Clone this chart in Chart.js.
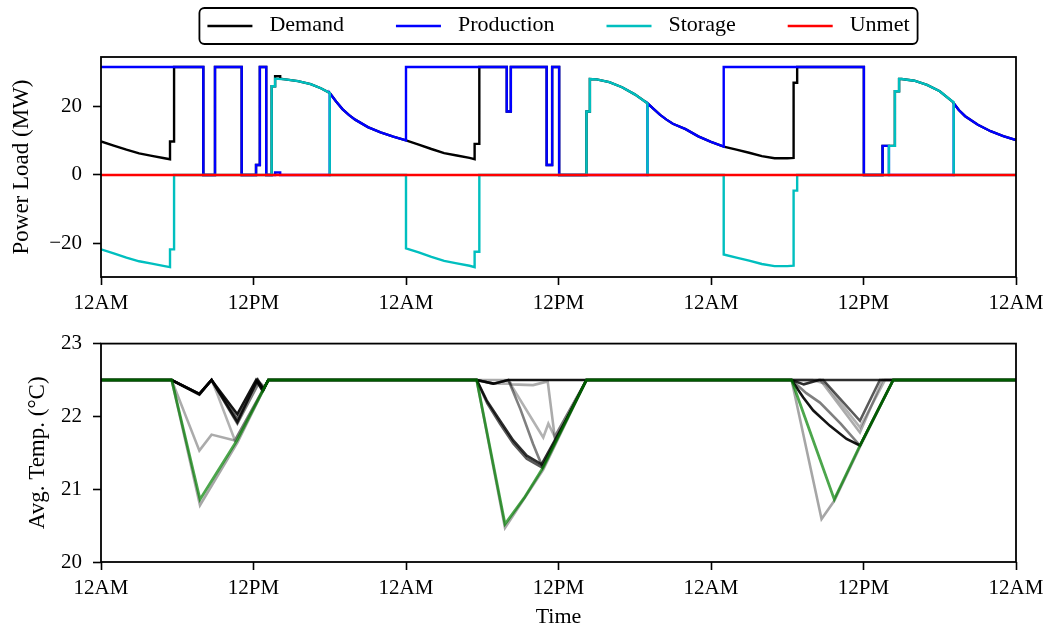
<!DOCTYPE html>
<html>
<head>
<meta charset="utf-8">
<script src="https://cdn.jsdelivr.net/npm/chart.js@4"></script>
<style>
  html, body { margin: 0; padding: 0; background: #fff; }
  #wrap { position: relative; width: 1052px; height: 630px; }
  canvas { position: absolute; left: 0; }
  #power { top: 0; }
  #temp { top: 320px; }
</style>
</head>
<body>
<div id="wrap">
  <canvas id="power" width="1052" height="320"></canvas>
  <canvas id="temp" width="1052" height="310"></canvas>
</div>
<script>
// ---- axis ticks (hours over three days) ----
const timeTicks = [0, 12, 24, 36, 48, 60, 72];
const timeTickLabels = ['12AM', '12PM', '12AM', '12PM', '12AM', '12PM', '12AM'];
const powerTicks = [-20, 0, 20];
const tempTicks = [20, 21, 22, 23];

// ---- power series (hour, MW); repeated hours mark switching instants ----
const demandHours = [
  0, 1, 2, 3, 4, 5, 5.43, 5.43, 5.75, 5.75, 8.05, 8.05, 8.97, 8.97, 11.07, 11.07, 12.2, 12.2, 12.5, 12.5, 13.0, 13.0, 13.43, 13.43, 13.7, 13.7, 14.1, 14.1,
  14.5, 15.5, 16.5, 17.3, 18.0, 18.5, 19, 19.5, 20, 21, 22, 23, 24,
  25, 26, 27, 28, 29, 29.4, 29.4, 29.77, 29.77, 31.93, 31.93, 32.25, 32.25, 35.07, 35.07, 35.5, 35.5, 36.05, 36.05, 38.2, 38.2, 38.47, 38.47,
  39, 40, 41, 42, 43, 43.5, 44, 44.5, 45, 46, 47, 48, 49,
  50, 51, 52, 53, 54, 54.5, 54.5, 54.78, 54.78, 60.03, 60.03, 61.5, 61.5, 62.47, 62.47, 62.8, 62.8,
  63, 64, 65, 66, 67, 67.1, 67.5, 68, 69, 70, 71, 72
];
const demandMW = [
  9.8, 8.6, 7.4, 6.3, 5.6, 4.9, 4.6, 9.8, 9.8, 31.6, 31.6, 0, 0, 31.6, 31.6, 0, 0, 2.9, 2.9, 31.6, 31.6, 0, 0, 26.0, 26.0, 28.9, 28.9, 28.2,
  28.0, 27.5, 26.6, 25.4, 24.0, 21.5, 19.3, 17.6, 16.2, 14.0, 12.5, 11.2, 10.1,
  8.9, 7.6, 6.4, 5.7, 5.0, 4.6, 9.1, 9.1, 31.6, 31.6, 18.6, 18.6, 31.6, 31.6, 2.9, 2.9, 31.6, 31.6, 0, 0, 18.6, 18.6, 28.1,
  28.0, 27.2, 25.7, 23.6, 21.0, 19.3, 17.6, 16.2, 15.0, 13.4, 11.3, 9.7, 8.3,
  7.4, 6.5, 5.5, 4.9, 4.9, 5.0, 27.0, 27.0, 31.6, 31.6, 0, 0, 8.5, 8.5, 24.5, 24.5, 28.1,
  28.1, 27.6, 26.4, 24.5, 21.5, 21.0, 19.0, 17.2, 14.7, 12.8, 11.4, 10.2
];

const productionHours = [
  0, 8.05, 8.05, 8.97, 8.97, 11.07, 11.07, 12.2, 12.2, 12.5, 12.5, 13.0, 13.0, 13.7, 13.7, 14.1, 14.1, 18.0, 18.0,
  18.5, 19, 19.5, 20, 21, 22, 23, 24, 24,
  31.93, 31.93, 32.25, 32.25, 35.07, 35.07, 35.5, 35.5, 36.05, 36.05, 43.0, 43.0,
  43.5, 44, 44.5, 45, 46, 47, 48, 49, 49,
  60.03, 60.03, 61.5, 61.5, 62.0, 62.0, 67.1, 67.1,
  67.5, 68, 69, 70, 71, 72
];
const productionMW = [
  31.6, 31.6, 0, 0, 31.6, 31.6, 0, 0, 2.9, 2.9, 31.6, 31.6, 0, 0, 0.7, 0.7, 0, 0, 24.0,
  21.5, 19.3, 17.6, 16.2, 14.0, 12.5, 11.2, 10.1, 31.6,
  31.6, 18.6, 18.6, 31.6, 31.6, 2.9, 2.9, 31.6, 31.6, 0, 0, 21.0,
  19.3, 17.6, 16.2, 15.0, 13.4, 11.3, 9.7, 8.3, 31.6,
  31.6, 0, 0, 8.5, 8.5, 0, 0, 21.0,
  19.0, 17.2, 14.7, 12.8, 11.4, 10.2
];

const storageHours = [
  0, 1, 2, 3, 4, 5, 5.43, 5.43, 5.75, 5.75, 13.43, 13.43, 13.7, 13.7,
  14.5, 15.5, 16.5, 17.3, 18.0, 18.0, 24, 24,
  25, 26, 27, 28, 29, 29.4, 29.4, 29.77, 29.77, 38.2, 38.2, 38.47, 38.47,
  39, 40, 41, 42, 43, 43, 49, 49,
  50, 51, 52, 53, 54, 54.5, 54.5, 54.78, 54.78, 62.0, 62.0, 62.47, 62.47, 62.8, 62.8,
  63, 64, 65, 66, 67, 67.1, 67.1, 72
];
const storageMW = [
  -21.8, -23.0, -24.2, -25.3, -26.0, -26.7, -27.0, -21.8, -21.8, 0, 0, 26.0, 26.0, 28.2,
  28.0, 27.5, 26.6, 25.4, 24.0, 0, 0, -21.5,
  -22.7, -24.0, -25.2, -25.9, -26.6, -27.0, -22.5, -22.5, 0, 0, 18.6, 18.6, 28.1,
  28.0, 27.2, 25.7, 23.6, 21.0, 0, 0, -23.3,
  -24.2, -25.1, -26.1, -26.7, -26.7, -26.6, -4.6, -4.6, 0, 0, 8.5, 8.5, 24.5, 24.5, 28.1,
  28.1, 27.6, 26.4, 24.5, 21.5, 21.3, 0, 0
];

const unmetHours = [0, 72];
const unmetMW = [0, 0];

// ---- average zone temperature traces (hour, degC) ----
const traceLightDeepHours = [0, 5.56, 7.79, 10.73, 13.17, 29.56, 31.79, 34.8, 38.2, 54.34, 56.7, 57.7, 59.72, 62.34, 72];
const traceLightDeepC     = [22.5, 22.5, 20.78, 21.64, 22.5, 22.5, 20.47, 21.27, 22.5, 22.5, 20.59, 20.84, 21.58, 22.5, 22.5];

const traceLightAHours = [0, 5.56, 7.74, 8.7, 10.54, 13.17, 32.05, 32.3, 34.0, 35.15, 35.7, 38.2, 56.6, 59.72, 61.5, 72];
const traceLightAC     = [22.5, 22.5, 21.53, 21.75, 21.67, 22.5, 22.5, 22.44, 22.43, 22.48, 21.72, 22.5, 22.5, 21.78, 22.5, 22.5];

const traceLightBHours = [0, 5.56, 7.74, 8.7, 9.1, 10.54, 13.17, 29.56, 30.87, 32.2, 34.8, 35.2, 35.7, 38.2, 56.0, 57.0, 59.72, 61.7, 72];
const traceLightBC     = [22.5, 22.5, 22.31, 22.5, 22.33, 21.67, 22.5, 22.5, 22.45, 22.45, 21.71, 21.9, 21.72, 22.5, 22.5, 22.45, 21.85, 22.5, 22.5];

const traceMidHours = [0, 5.56, 7.74, 8.7, 10.73, 12.45, 12.85, 13.17, 29.56, 30.87, 32.05, 33.0, 34.0, 34.75, 38.2, 54.34, 55.5, 56.57, 58.2, 59.72, 62.34, 72];
const traceMidC     = [22.5, 22.5, 22.3, 22.5, 21.9, 22.47, 22.4, 22.5, 22.5, 22.45, 22.5, 22.1, 21.62, 21.3, 22.5, 22.5, 22.32, 22.19, 21.9, 21.6, 22.5, 22.5];

const traceDarkHours = [0, 5.56, 7.74, 8.7, 10.73, 12.35, 12.8, 13.17, 29.56, 30.4, 31.4, 32.44, 33.5, 34.7, 38.2, 56.83, 59.72, 61.29, 72];
const traceDarkC     = [22.5, 22.5, 22.3, 22.5, 21.96, 22.5, 22.37, 22.5, 22.5, 22.18, 21.9, 21.63, 21.42, 21.3, 22.5, 22.5, 21.94, 22.5, 22.5];

const traceDarkerHours = [0, 5.56, 7.74, 8.7, 10.73, 12.3, 12.78, 13.17, 29.56, 30.35, 31.4, 32.44, 33.5, 34.67, 36.5, 38.2, 54.34, 55.3, 56.5, 72];
const traceDarkerC     = [22.5, 22.5, 22.31, 22.5, 21.92, 22.5, 22.37, 22.5, 22.5, 22.22, 21.94, 21.67, 21.46, 21.34, 21.92, 22.5, 22.5, 22.44, 22.5, 22.5];

const traceBlackHours = [0, 5.56, 7.74, 8.7, 10.73, 12.2, 12.72, 13.17, 29.56, 30.87, 32.05, 54.34, 55.26, 56.05, 57.36, 58.67, 59.72, 61.0, 62.34, 72];
const traceBlackC     = [22.5, 22.5, 22.31, 22.5, 22.03, 22.5, 22.35, 22.5, 22.5, 22.45, 22.5, 22.5, 22.26, 22.08, 21.87, 21.69, 21.6, 22.04, 22.5, 22.5];

const traceGreenHours = [0, 5.56, 7.79, 10.73, 13.17, 29.56, 31.79, 33.3, 34.8, 36.5, 38.2, 54.34, 57.7, 59.72, 62.34, 72];
const traceGreenC     = [22.5, 22.5, 20.86, 21.68, 22.5, 22.5, 20.52, 20.88, 21.3, 21.9, 22.5, 22.5, 20.86, 21.6, 22.5, 22.5];

// ---- helpers ----
const toPoints = (xs, ys) => xs.map((x, i) => ({ x: x, y: ys[i] }));
const SERIF = "'Liberation Serif', 'Times New Roman', serif";
Chart.defaults.font.family = SERIF;
Chart.defaults.font.size = 21;
Chart.defaults.color = '#000';

// full box round each plot area, drawn above the lines
const framePlugin = {
  id: 'frame',
  afterDatasetsDraw(chart) {
    const a = chart.chartArea, ctx = chart.ctx;
    ctx.save();
    ctx.strokeStyle = '#000';
    ctx.lineWidth = 1.8;
    ctx.strokeRect(a.left, a.top, a.right - a.left, a.bottom - a.top);
    ctx.restore();
  }
};

// boxed single-row key above the power plot
const keyPlugin = {
  id: 'seriesKey',
  afterDraw(chart) {
    const ctx = chart.ctx;
    ctx.save();
    ctx.font = '22px ' + SERIF;
    const handle = 45, textPad = 17, colGap = 52, sidePad = 8;
    const items = chart.data.datasets.map(ds => ({ label: ds.label, color: ds.borderColor, w: ctx.measureText(ds.label).width }));
    const total = sidePad * 2 + items.reduce((s, it) => s + handle + textPad + it.w, 0) + colGap * (items.length - 1);
    const a = chart.chartArea;
    const left = (a.left + a.right) / 2 - total / 2;
    const top = 8, h = 36, cy = top + h / 2;
    ctx.beginPath();
    ctx.roundRect(left, top, total, h, 5);
    ctx.fillStyle = '#fff';
    ctx.fill();
    ctx.lineWidth = 1.8;
    ctx.strokeStyle = '#000';
    ctx.stroke();
    let x = left + sidePad;
    items.forEach(it => {
      ctx.beginPath();
      ctx.moveTo(x, cy);
      ctx.lineTo(x + handle, cy);
      ctx.strokeStyle = it.color;
      ctx.lineWidth = 2.4;
      ctx.stroke();
      x += handle + textPad;
      ctx.fillStyle = '#000';
      ctx.textAlign = 'left';
      ctx.textBaseline = 'middle';
      ctx.fillText(it.label, x, cy - 1);
      x += it.w + colGap;
    });
    ctx.restore();
  }
};

const tickGrid = { display: true, drawOnChartArea: false, drawTicks: true, tickLength: 8, tickWidth: 1.6, tickColor: '#000' };

function timeAxis(height, withTitle) {
  return {
    type: 'linear', min: 0, max: 72,
    afterBuildTicks: s => { s.ticks = timeTicks.map(v => ({ value: v })); },
    afterFit: s => { s.height = height; },
    ticks: { padding: 6, maxRotation: 0, autoSkip: false, callback: (v, i) => timeTickLabels[i] },
    grid: tickGrid,
    border: { display: false },
    title: withTitle ? { display: true, text: 'Time', font: { size: 22 }, padding: { top: 0, bottom: 0 } } : { display: false }
  };
}

function line(label, xs, ys, color, width, order) {
  return { label, data: toPoints(xs, ys), borderColor: color, backgroundColor: color, borderWidth: width,
           pointRadius: 0, tension: 0, fill: false, order };
}

// ---- power plot ----
new Chart(document.getElementById('power'), {
  type: 'line',
  data: {
    datasets: [
      line('Demand', demandHours, demandMW, '#000000', 2.4, 4),
      line('Production', productionHours, productionMW, '#0000ff', 2.4, 3),
      line('Storage', storageHours, storageMW, '#00bfbf', 2.4, 2),
      line('Unmet', unmetHours, unmetMW, '#ff0000', 2.4, 1)
    ]
  },
  options: {
    responsive: false, animation: false, events: [],
    layout: { padding: { left: 0, right: 36, top: 57, bottom: 0 } },
    plugins: { legend: { display: false }, tooltip: { enabled: false } },
    scales: {
      x: timeAxis(43, false),
      y: {
        type: 'linear', min: -29.9, max: 34.55,
        afterBuildTicks: s => { s.ticks = powerTicks.map(v => ({ value: v })); },
        afterFit: s => { s.width = 101; },
        ticks: { padding: 11, callback: v => String(v).replace('-', '\u2212') },
        grid: tickGrid,
        border: { display: false },
        title: { display: true, text: 'Power Load (MW)', font: { size: 23 }, padding: { top: 8, bottom: 0 } }
      }
    }
  },
  plugins: [framePlugin, keyPlugin]
});

// ---- temperature plot ----
new Chart(document.getElementById('temp'), {
  type: 'line',
  data: {
    datasets: [
      line('t7', traceGreenHours, traceGreenC, 'rgba(0,128,0,0.7)', 2.8, 0),
      line('t6', traceBlackHours, traceBlackC, 'rgba(0,0,0,0.92)', 2.6, 1),
      line('t5', traceDarkerHours, traceDarkerC, 'rgba(0,0,0,0.82)', 2.6, 2),
      line('t4', traceDarkHours, traceDarkC, 'rgba(0,0,0,0.65)', 2.6, 3),
      line('t3', traceMidHours, traceMidC, 'rgba(0,0,0,0.5)', 2.6, 4),
      line('t2', traceLightBHours, traceLightBC, 'rgba(0,0,0,0.3)', 2.6, 5),
      line('t1', traceLightAHours, traceLightAC, 'rgba(0,0,0,0.33)', 2.6, 6),
      line('t0', traceLightDeepHours, traceLightDeepC, 'rgba(0,0,0,0.35)', 2.6, 7)
    ]
  },
  options: {
    responsive: false, animation: false, events: [],
    layout: { padding: { left: 0, right: 36, top: 23, bottom: 0 } },
    plugins: { legend: { display: false }, tooltip: { enabled: false } },
    scales: {
      x: timeAxis(68, true),
      y: {
        type: 'linear', min: 20, max: 23,
        afterBuildTicks: s => { s.ticks = tempTicks.map(v => ({ value: v })); },
        afterFit: s => { s.width = 101; },
        ticks: { padding: 11 },
        grid: tickGrid,
        border: { display: false },
        title: { display: true, text: 'Avg. Temp. (°C)', font: { size: 23 }, padding: { top: 24, bottom: 0 } }
      }
    }
  },
  plugins: [framePlugin]
});
</script>
</body>
</html>
